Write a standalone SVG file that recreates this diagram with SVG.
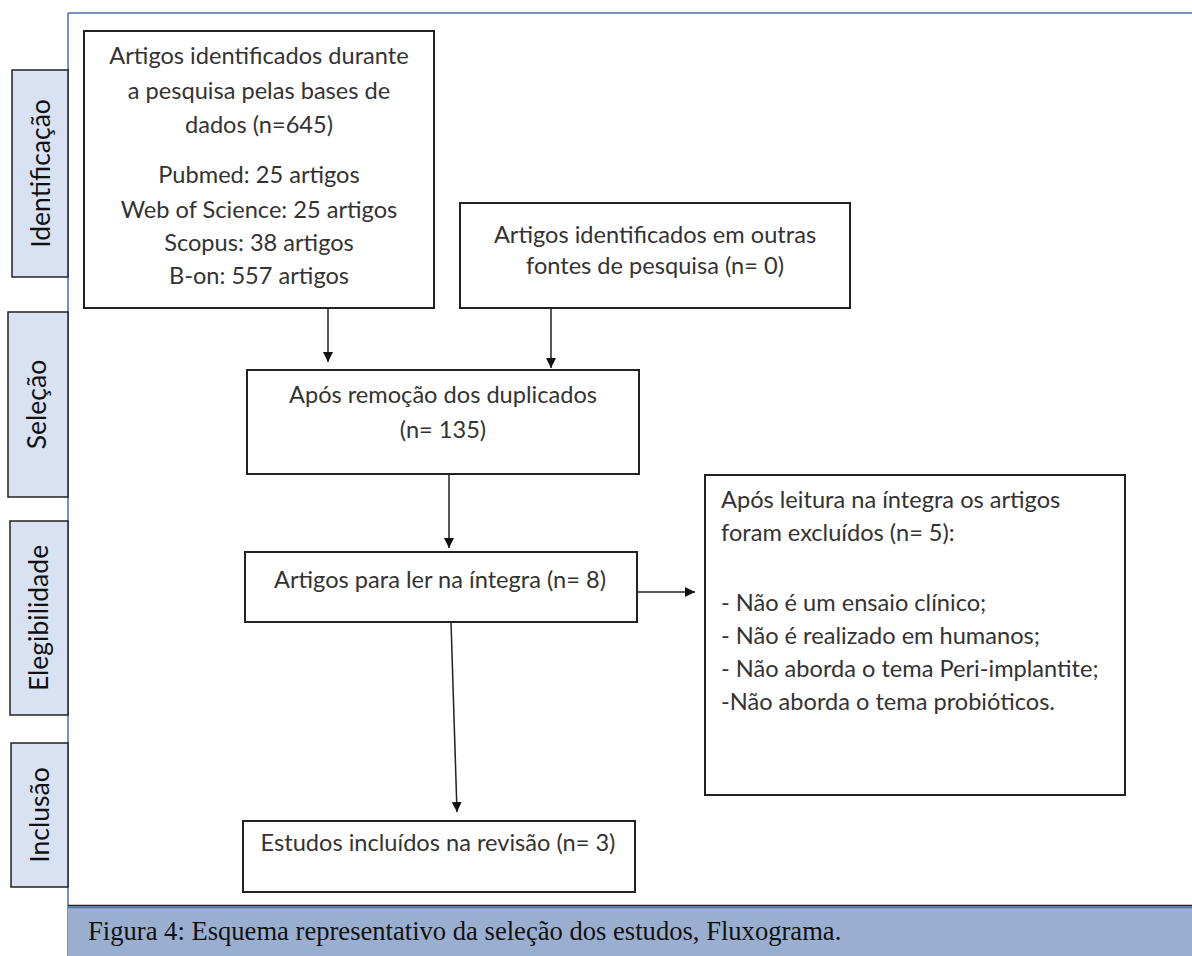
<svg xmlns="http://www.w3.org/2000/svg" width="1192" height="956" viewBox="0 0 1192 956">
<defs>
<marker id="ah" viewBox="0 0 10 10" refX="10" refY="5" markerWidth="10" markerHeight="10" markerUnits="userSpaceOnUse" orient="auto">
<path d="M0,0 L10,5 L0,10 z" fill="#111"/>
</marker>
<style>
.box{fill:#fff;stroke:#222;stroke-width:2}
.side{fill:#d9e2f3;stroke:#222;stroke-width:1.5}
.t{font-family:Lato,"Liberation Sans",sans-serif;font-size:23.6px;fill:#333}
.c{text-anchor:middle}
.s{font-family:Lato,"Liberation Sans",sans-serif;font-size:26.5px;fill:#111;text-anchor:middle}
.conn{stroke:#222;stroke-width:1.5;fill:none;marker-end:url(#ah)}
</style>
</defs>
<rect width="1192" height="956" fill="#fff"/>
<g id="frame">
<line x1="68" y1="13" x2="1192" y2="13" stroke="#4a6fae" stroke-width="1.5"/>
<line x1="68" y1="13" x2="68" y2="956" stroke="#4a6fae" stroke-width="1.5"/>
</g>
<g id="caption">
<rect x="68" y="906" width="1124" height="50" fill="#9aafcf"/>
<line x1="68" y1="905.5" x2="1192" y2="905.5" stroke="#222" stroke-width="1.5"/>
<line x1="68" y1="907.5" x2="1192" y2="907.5" stroke="#4a6fae" stroke-width="1.5"/>
<text x="88" y="940" font-family="'Liberation Serif',serif" font-size="26.6" fill="#111">Figura 4: Esquema representativo da seleção dos estudos, Fluxograma.</text>
</g>
<g id="stage-identificacao">
<rect class="side" x="12" y="70" width="56" height="207"/>
<text class="s" transform="translate(50,173.5) rotate(-90)">Identificação</text>
</g>
<g id="stage-selecao">
<rect class="side" x="8" y="312" width="60" height="185"/>
<text class="s" transform="translate(46,404.5) rotate(-90)">Seleção</text>
</g>
<g id="stage-elegibilidade">
<rect class="side" x="10" y="521" width="58" height="194"/>
<text class="s" transform="translate(48,618) rotate(-90)">Elegibilidade</text>
</g>
<g id="stage-inclusao">
<rect class="side" x="11" y="743" width="57" height="144"/>
<text class="s" transform="translate(49,815) rotate(-90)">Inclusão</text>
</g>
<g id="n1">
<rect class="box" x="84" y="31" width="350" height="277"/>
<text class="t c" x="259" y="64">Artigos identificados durante</text>
<text class="t c" x="259" y="99">a pesquisa pelas bases de</text>
<text class="t c" x="259" y="133">dados (n=645)</text>
<text class="t c" x="259" y="183">Pubmed: 25 artigos</text>
<text class="t c" x="259" y="218">Web of Science: 25 artigos</text>
<text class="t c" x="259" y="251">Scopus: 38 artigos</text>
<text class="t c" x="259" y="284">B-on: 557 artigos</text>
</g>
<g id="n2">
<rect class="box" x="460" y="203" width="390" height="105"/>
<text class="t c" x="655" y="243">Artigos identificados em outras</text>
<text class="t c" x="655" y="274">fontes de pesquisa (n= 0)</text>
</g>
<g id="n3">
<rect class="box" x="247" y="370" width="392" height="104"/>
<text class="t c" x="443" y="403">Após remoção dos duplicados</text>
<text class="t c" x="443" y="438">(n= 135)</text>
</g>
<g id="n4">
<rect class="box" x="245" y="552" width="392" height="70"/>
<text class="t c" x="440" y="588">Artigos para ler na íntegra (n= 8)</text>
</g>
<g id="n5">
<rect class="box" x="705" y="475" width="420" height="320"/>
<text class="t" x="721" y="508">Após leitura na íntegra os artigos</text>
<text class="t" x="721" y="541">foram excluídos (n= 5):</text>
<text class="t" x="721" y="611">- Não é um ensaio clínico;</text>
<text class="t" x="721" y="644">- Não é realizado em humanos;</text>
<text class="t" x="721" y="677">- Não aborda o tema Peri-implantite;</text>
<text class="t" x="721" y="710">-Não aborda o tema probióticos.</text>
</g>
<g id="n6">
<rect class="box" x="243" y="821" width="392" height="71"/>
<text class="t c" x="438" y="851">Estudos incluídos na revisão (n= 3)</text>
</g>
<g id="connectors">
<line class="conn" x1="328" y1="308" x2="328" y2="362"/>
<line class="conn" x1="551" y1="308" x2="551" y2="368"/>
<line class="conn" x1="449" y1="474" x2="449" y2="548"/>
<line class="conn" x1="637" y1="592" x2="695" y2="592"/>
<line class="conn" x1="451" y1="622" x2="457" y2="812"/>
</g>
</svg>
